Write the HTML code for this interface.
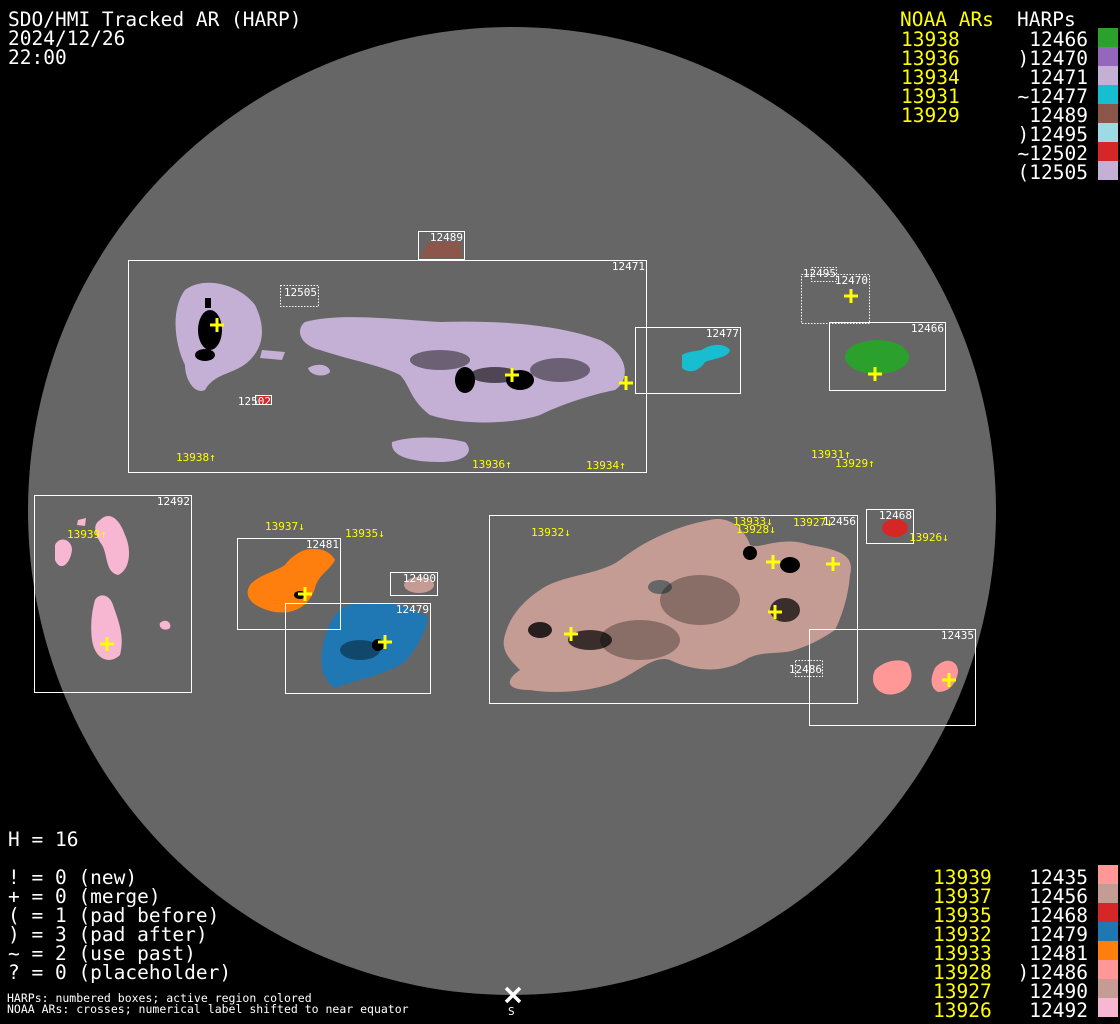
<!DOCTYPE html>
<html><head><meta charset="utf-8"><style>
html,body{margin:0;padding:0;background:#000;}
svg{display:block;}
.t{font-family:"DejaVu Sans Mono","Liberation Mono",monospace;font-size:19.5px;}
.s{font-family:"DejaVu Sans Mono","Liberation Mono",monospace;font-size:11px;}
.f{font-family:"DejaVu Sans Mono","Liberation Mono",monospace;font-size:11.5px;}
</style></head><body>
<svg width="1120" height="1024" viewBox="0 0 1120 1024" xmlns="http://www.w3.org/2000/svg">
<rect width="1120" height="1024" fill="#000"/>
<circle cx="512" cy="511" r="484" fill="#666666"/>

<!-- blobs -->
<g fill="#c5b0d5">
<path d="M185,290 C205,275 240,285 255,305 C265,325 265,345 250,360 C235,375 215,372 205,390 C195,395 185,380 185,365 C175,345 170,310 185,290Z"/>
<path d="M262,350 L285,352 L282,360 L260,358Z"/>
<path d="M305,322 C340,312 400,320 440,322 C500,320 560,325 600,340 C630,355 630,380 615,390 C590,395 560,405 540,415 C510,425 460,425 430,415 C410,400 410,385 400,375 C380,365 350,360 320,350 C300,345 295,330 305,322Z"/>
<path d="M308,368 C318,362 330,365 330,372 C325,378 310,376 308,368Z"/>
<path d="M392,442 C410,436 440,436 465,442 C475,452 465,462 440,462 C410,462 390,456 392,442Z"/>
<path d="M428,242 L460,242 L462,258 L420,258Z" fill="#8c564b"/>
</g>
<path d="M682,355 C690,350 700,352 705,348 C712,344 725,343 730,350 C728,358 715,358 705,362 C700,370 690,375 682,368Z" fill="#17becf"/>
<ellipse cx="877" cy="357" rx="32" ry="17" fill="#2ca02c"/>
<ellipse cx="895" cy="528" rx="13" ry="9" fill="#d62728"/>
<path d="M258,405 L270,405 L270,396 L258,396Z" fill="#d62728"/>
<g fill="#f7b6d2">
<path d="M100,520 C110,510 120,520 125,535 C132,550 130,570 118,575 C105,572 108,555 102,545 C95,535 92,525 100,520Z"/>
<path d="M55,545 C60,535 72,540 72,550 C70,565 60,572 55,560Z"/>
<path d="M95,600 C100,592 110,595 113,605 C118,620 125,635 120,655 C110,665 95,660 92,640 C90,625 92,610 95,600Z"/>
<path d="M160,623 C165,618 172,622 170,628 C165,632 158,628 160,623Z"/>
<path d="M78,520 L86,518 L85,526 L77,525Z"/>
</g>
<path d="M300,552 C315,545 330,550 335,560 C330,570 318,575 315,588 C310,605 295,615 275,612 C255,608 242,598 250,585 C258,575 275,572 285,565 C290,558 295,555 300,552Z" fill="#ff7f0e"/>
<path d="M345,606 C370,600 410,602 428,618 C425,635 415,650 405,662 C385,675 355,680 335,688 C322,680 320,665 322,650 C325,635 330,615 345,606Z" fill="#1f77b4"/>
<ellipse cx="419" cy="585" rx="15" ry="8" fill="#c49c94"/>
<path d="M540,590 C560,575 600,575 620,560 C645,540 680,525 710,520 C730,515 745,530 750,545 C760,550 780,535 810,545 C840,550 855,555 850,575 C848,600 840,620 835,630 C820,640 810,645 795,650 C780,655 760,650 745,660 C720,675 690,670 670,660 C655,655 640,670 620,680 C600,690 560,695 530,690 C505,690 505,680 520,670 C510,660 500,650 505,635 C510,615 525,600 540,590Z" fill="#c49c94"/>
<ellipse cx="660" cy="587" rx="12" ry="7" fill="#666666"/>
<path d="M875,670 C885,660 900,658 908,663 C915,675 912,690 895,694 C880,697 868,685 875,670Z" fill="#ff9896"/>
<path d="M935,668 C945,656 958,660 958,672 C956,685 948,692 938,692 C930,688 930,678 935,668Z" fill="#ff9896"/>

<!-- spots -->
<g fill="#000">
<ellipse cx="210" cy="330" rx="12" ry="20"/><ellipse cx="205" cy="355" rx="10" ry="6"/><rect x="205" y="298" width="6" height="10"/>
<ellipse cx="465" cy="380" rx="10" ry="13"/><ellipse cx="520" cy="380" rx="14" ry="10"/><ellipse cx="495" cy="375" rx="25" ry="8" opacity=".6"/>
<ellipse cx="440" cy="360" rx="30" ry="10" opacity=".45"/><ellipse cx="560" cy="370" rx="30" ry="12" opacity=".45"/>
<ellipse cx="750" cy="553" rx="7" ry="7"/><ellipse cx="790" cy="565" rx="10" ry="8"/><ellipse cx="785" cy="610" rx="15" ry="12" opacity=".7"/>
<ellipse cx="590" cy="640" rx="22" ry="10" opacity=".7"/><ellipse cx="540" cy="630" rx="12" ry="8" opacity=".8"/>
<ellipse cx="700" cy="600" rx="40" ry="25" opacity=".3"/><ellipse cx="640" cy="640" rx="40" ry="20" opacity=".3"/>
<ellipse cx="378" cy="645" rx="6" ry="6"/><ellipse cx="360" cy="650" rx="20" ry="10" opacity=".4"/>
<ellipse cx="300" cy="595" rx="6" ry="4"/>
</g>

<!-- boxes -->
<g fill="none" stroke="#fff" stroke-width="1">
<rect x="418.5" y="231.5" width="46" height="28"/>
<rect x="128.5" y="260.5" width="518" height="212"/>
<rect x="635.5" y="327.5" width="105" height="66"/>
<rect x="829.5" y="322.5" width="116" height="68"/>
<rect x="34.5" y="495.5" width="157" height="197"/>
<rect x="237.5" y="538.5" width="103" height="91"/>
<rect x="390.5" y="572.5" width="47" height="23"/>
<rect x="285.5" y="603.5" width="145" height="90"/>
<rect x="489.5" y="515.5" width="368" height="188"/>
<rect x="866.5" y="509.5" width="47" height="34"/>
<rect x="809.5" y="629.5" width="166" height="96"/>
<rect x="255.5" y="395.5" width="16" height="9"/>
</g>
<g fill="none" stroke="#fff" stroke-width="1" stroke-dasharray="1.5,1.5">
<rect x="280.5" y="285.5" width="38" height="21"/>
<rect x="811.5" y="267.5" width="25" height="14"/>
<rect x="801.5" y="274.5" width="68" height="49"/>
<rect x="795.5" y="660.5" width="27" height="16"/>
</g>

<!-- box labels -->
<g class="s" fill="#fff" text-anchor="end">
<text x="463" y="241">12489</text>
<text x="645" y="270">12471</text>
<text x="317" y="296">12505</text>
<text x="271" y="405">12502</text>
<text x="739" y="337">12477</text>
<text x="836" y="277">12495</text>
<text x="868" y="284">12470</text>
<text x="944" y="332">12466</text>
<text x="190" y="505">12492</text>
<text x="339" y="548">12481</text>
<text x="436" y="582">12490</text>
<text x="429" y="613">12479</text>
<text x="856" y="525">12456</text>
<text x="912" y="519">12468</text>
<text x="974" y="639">12435</text>
<text x="822" y="673">12486</text>
</g>

<!-- NOAA labels -->
<g class="s" fill="#ffff00">
<text x="176" y="461">13938↑</text>
<text x="472" y="468">13936↑</text>
<text x="586" y="469">13934↑</text>
<text x="811" y="458">13931↑</text>
<text x="835" y="467">13929↑</text>
<text x="265" y="530">13937↓</text>
<text x="345" y="537">13935↓</text>
<text x="67" y="538">13939↑</text>
<text x="531" y="536">13932↓</text>
<text x="733" y="525">13933↓</text>
<text x="736" y="533">13928↓</text>
<text x="793" y="526">13927↓</text>
<text x="909" y="541">13926↓</text>
</g>

<!-- crosses -->
<g stroke="#ffff00" stroke-width="3">
<path d="M210,325h14M217,318v14"/>
<path d="M505,375h14M512,368v14"/>
<path d="M619,383h14M626,376v14"/>
<path d="M844,296h14M851,289v14"/>
<path d="M868,374h14M875,367v14"/>
<path d="M100,644h14M107,637v14"/>
<path d="M298,594h14M305,587v14"/>
<path d="M378,642h14M385,635v14"/>
<path d="M564,634h14M571,627v14"/>
<path d="M766,562h14M773,555v14"/>
<path d="M826,564h14M833,557v14"/>
<path d="M768,612h14M775,605v14"/>
<path d="M942,680h14M949,673v14"/>
</g>

<!-- header text -->
<g class="t" fill="#fff">
<text x="8" y="26">SDO/HMI Tracked AR (HARP)</text>
<text x="8" y="45">2024/12/26</text>
<text x="8" y="64">22:00</text>
<text x="1017" y="26">HARPs</text>
</g>
<text class="t" x="900" y="26" fill="#ffff00">NOAA ARs</text>
<g class="t" fill="#ffff00">
<text x="901" y="46">13938</text><text x="901" y="65">13936</text><text x="901" y="84">13934</text><text x="901" y="103">13931</text><text x="901" y="122">13929</text>
</g>
<g class="t" fill="#fff" text-anchor="end">
<text x="1088" y="46">12466</text><text x="1088" y="65">)12470</text><text x="1088" y="84">12471</text><text x="1088" y="103">~12477</text>
<text x="1088" y="122">12489</text><text x="1088" y="141">)12495</text><text x="1088" y="160">~12502</text><text x="1088" y="179">(12505</text>
</g>
<rect x="1098" y="28" width="20" height="19" fill="#2ca02c"/>
<rect x="1098" y="47" width="20" height="19" fill="#9467bd"/>
<rect x="1098" y="66" width="20" height="19" fill="#c5b0d5"/>
<rect x="1098" y="85" width="20" height="19" fill="#17becf"/>
<rect x="1098" y="104" width="20" height="19" fill="#8c564b"/>
<rect x="1098" y="123" width="20" height="19" fill="#9edae5"/>
<rect x="1098" y="142" width="20" height="19" fill="#d62728"/>
<rect x="1098" y="161" width="20" height="19" fill="#c5b0d5"/>

<!-- bottom left -->
<g class="t" fill="#fff">
<text x="8" y="846">H = 16</text>
<text x="8" y="884">! = 0 (new)</text>
<text x="8" y="903">+ = 0 (merge)</text>
<text x="8" y="922">( = 1 (pad before)</text>
<text x="8" y="941">) = 3 (pad after)</text>
<text x="8" y="960">~ = 2 (use past)</text>
<text x="8" y="979">? = 0 (placeholder)</text>
</g>
<g class="f" fill="#fff">
<text x="7" y="1002">HARPs: numbered boxes; active region colored</text>
<text x="7" y="1013">NOAA ARs: crosses; numerical label shifted to near equator</text>
</g>
<path d="M506,988l14,14M520,988l-14,14" stroke="#fff" stroke-width="3.5"/>
<text class="s" x="508" y="1015" fill="#fff">S</text>

<!-- bottom right -->
<g class="t" fill="#ffff00">
<text x="933" y="884">13939</text><text x="933" y="903">13937</text><text x="933" y="922">13935</text><text x="933" y="941">13932</text>
<text x="933" y="960">13933</text><text x="933" y="979">13928</text><text x="933" y="998">13927</text><text x="933" y="1017">13926</text>
</g>
<g class="t" fill="#fff" text-anchor="end">
<text x="1088" y="884">12435</text><text x="1088" y="903">12456</text><text x="1088" y="922">12468</text><text x="1088" y="941">12479</text>
<text x="1088" y="960">12481</text><text x="1088" y="979">)12486</text><text x="1088" y="998">12490</text><text x="1088" y="1017">12492</text>
</g>
<rect x="1098" y="865" width="20" height="19" fill="#ff9896"/>
<rect x="1098" y="884" width="20" height="19" fill="#c49c94"/>
<rect x="1098" y="903" width="20" height="19" fill="#d62728"/>
<rect x="1098" y="922" width="20" height="19" fill="#1f77b4"/>
<rect x="1098" y="941" width="20" height="19" fill="#ff7f0e"/>
<rect x="1098" y="960" width="20" height="19" fill="#ff9896"/>
<rect x="1098" y="979" width="20" height="19" fill="#c49c94"/>
<rect x="1098" y="998" width="20" height="19" fill="#f7b6d2"/>
</svg>
</body></html>
